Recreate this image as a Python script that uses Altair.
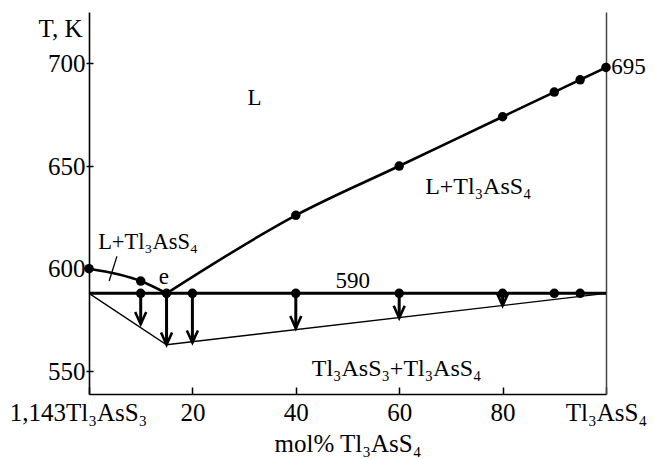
import altair as alt
import pandas as pd

FONT = "Liberation Serif"

# liquidus
liq_left_x = [0, 10, 15]
liq_left_y = [600, 594, 588]
liq_right_x = [15, 40, 60, 80, 90, 95, 100]
liq_right_y = [588, 626, 650, 674, 686, 692, 698]
# eutectic horizontal
eut_x = [0, 100]
eut_y = [588, 588]
eut_pts_x = [10, 20, 40, 60, 80, 90, 95]
eut_pts_y = [588, 588, 588, 588, 588, 588, 588]
# arrows (thermal effects)
arrow_x = [10, 15, 20, 40, 60, 80]
arrow_top = [588, 588, 588, 588, 588, 588]
arrow_end = [573, 563, 564, 571, 576, 582]
# thin lower boundary
sol_x = [0, 15, 100]
sol_y = [588, 563, 588]
# leader line
leader_x = [3.9, 5.4]
leader_y = [594, 606]
# texts
lab_text = ["L", "L+Tl₃AsS₄", "L+Tl₃AsS₄", "e", "590", "Tl₃AsS₃+Tl₃AsS₄", "695"]
lab_x = [32, 75.3, 11.4, 14.5, 51, 59.5, 101]
lab_y = [683, 640, 613, 596, 594, 551, 698]
lab_size = [23, 24, 22.5, 23, 23, 24, 23]
lab_align = ["center", "center", "center", "center", "center", "center", "left"]

x_ticks = [0, 20, 40, 60, 80, 100]
y_ticks = [550, 600, 650, 700]
x_dom = [0, 100]
y_dom = [539, 725]

xs = alt.Scale(domain=x_dom, nice=False, zero=False)
ys = alt.Scale(domain=y_dom, nice=False, zero=False)


def X(field="x", axis=None):
    return alt.X(f"{field}:Q", scale=xs, axis=axis)


def Y(field="y", axis=None):
    return alt.Y(f"{field}:Q", scale=ys, axis=axis)


liq_l = pd.DataFrame({"x": liq_left_x, "y": liq_left_y})
liq_r = pd.DataFrame({"x": liq_right_x, "y": liq_right_y})
eut = pd.DataFrame({"x": eut_x, "y": eut_y})
liq_pts = pd.concat([liq_l, liq_r.iloc[1:]], ignore_index=True)
eut_pts = pd.DataFrame({"x": eut_pts_x, "y": eut_pts_y})
arr = pd.DataFrame({"x": arrow_x, "y": arrow_top, "y2": arrow_end})
sol = pd.DataFrame({"x": sol_x, "y": sol_y})
lead = pd.DataFrame({"x": leader_x, "y": leader_y})

x_axis_main = alt.Axis(
    orient="bottom", values=x_ticks, domain=False, offset=-7, tickSize=7, tickWidth=1.5,
    tickColor="black", grid=False, labelFont=FONT, labelFontSize=25, labelColor="black",
    labelPadding=6, labelOverlap=False, labelFlush=False, labelBound=False,
    labelExpr="datum.value == 0 ? '1,143Tl₃AsS₃' : (datum.value == 100 ? 'Tl₃AsS₄' : datum.label)",
    labelOffset={"condition": {"test": "datum.value == 0", "value": -11}, "value": 0},
    title="mol% Tl₃AsS₄", titleFont=FONT, titleFontSize=25, titleFontWeight="normal",
    titleColor="black", titlePadding=6,
)
y_axis_main = alt.Axis(
    orient="left", values=y_ticks, domain=False, offset=-4, tickSize=7, tickWidth=1.5,
    tickColor="black", grid=False, labelFont=FONT, labelFontSize=25, labelColor="black",
    labelPadding=1, labelOverlap=False, labelFlush=False, labelBound=False,
    title="T, K", titleFont=FONT, titleFontSize=25, titleFontWeight="normal",
    titleColor="black", titleAngle=0, titleAlign="right", titleBaseline="middle",
    titleX=-11, titleY=16,
)
x_axis_dom = alt.Axis(orient="bottom", domain=True, ticks=False, labels=False, title=None,
                      grid=False, domainColor="black", domainWidth=1.6)
y_axis_dom = alt.Axis(orient="left", domain=True, ticks=False, labels=False, title=None,
                      grid=False, domainColor="black", domainWidth=1.6)
y_axis_right = alt.Axis(orient="right", domain=True, ticks=False, labels=False, title=None,
                        grid=False, domainColor="#444444", domainWidth=1.5)

l_liq_left = alt.Chart(liq_l).mark_line(color="black", strokeWidth=2.6, interpolate="monotone").encode(
    x=X(axis=x_axis_main), y=Y(axis=y_axis_main))
l_eut = alt.Chart(eut).mark_line(color="black", strokeWidth=3).encode(
    x=X(axis=x_axis_dom), y=Y(axis=y_axis_dom))
l_liq_right = alt.Chart(liq_r).mark_line(color="black", strokeWidth=2.6, interpolate="monotone").encode(
    x=X(), y=Y(axis=y_axis_right))
l_sol = alt.Chart(sol).mark_line(color="black", strokeWidth=1.3).encode(x=X(), y=Y())
l_lead = alt.Chart(lead).mark_line(color="black", strokeWidth=1.3).encode(x=X(), y=Y())
l_arr = alt.Chart(arr).mark_rule(color="black", strokeWidth=3).encode(
    x=X(), y=Y(), y2="y2:Q")
l_head = alt.Chart(arr).mark_point(
    shape="M-0.45,-1L0,0L0.45,-1", filled=False, stroke="black", strokeWidth=2.6,
    size=600, opacity=1).encode(x=X(), y=Y("y2"))
l_pts1 = alt.Chart(liq_pts).mark_circle(color="black", size=90, opacity=1).encode(x=X(), y=Y())
l_pts2 = alt.Chart(eut_pts).mark_circle(color="black", size=90, opacity=1).encode(x=X(), y=Y())

text_layers = []
for t, x, y, s, a in zip(lab_text, lab_x, lab_y, lab_size, lab_align):
    d = pd.DataFrame({"t": [t], "x": [x], "y": [y]})
    text_layers.append(
        alt.Chart(d).mark_text(font=FONT, fontSize=s, align=a, baseline="middle", color="black").encode(
            x=X(), y=Y(), text="t:N"))

chart = alt.layer(
    l_liq_left, l_eut, l_liq_right, l_sol, l_lead, l_arr, l_head, l_pts1, l_pts2, *text_layers
).resolve_axis(x="independent", y="independent").properties(
    width=517, height=382,
    autosize=alt.AutoSizeParams(type="none"),
    padding={"left": 89, "top": 12, "right": 48, "bottom": 65},
    background="white",
).configure_view(stroke=None)

chart.save("out.html", embed_options={"renderer": "svg", "actions": False})
